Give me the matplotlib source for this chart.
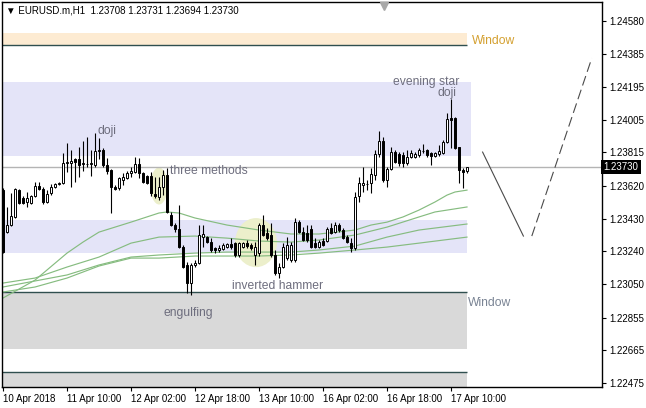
import matplotlib
matplotlib.use("Agg")
import matplotlib.pyplot as plt
import matplotlib.transforms as mtransforms
from matplotlib.patches import Rectangle, Ellipse

plt.rcParams['font.family'] = ['Liberation Sans', 'DejaVu Sans']

# EURUSD.m H1, 10 Apr 2018 18:00 .. 17 Apr 14:00 (one entry per bar)
opens = [1.23596, 1.23352, 1.23393, 1.23440, 1.23596, 1.23550, 1.23527, 1.23521, 1.23562, 1.23620,
         1.23602, 1.23527, 1.23579, 1.23614, 1.23631, 1.23637, 1.23753, 1.23756, 1.23776, 1.23776,
         1.23747, 1.23747, 1.23747, 1.23742, 1.23823, 1.23829, 1.23742, 1.23713, 1.23614, 1.23608,
         1.23654, 1.23666, 1.23695, 1.23701, 1.23747, 1.23695, 1.23678, 1.23678, 1.23573, 1.23556,
         1.23614, 1.23684, 1.23451, 1.23393, 1.23370, 1.23265, 1.23161, 1.23056, 1.23161, 1.23172,
         1.23323, 1.23323, 1.23294, 1.23259, 1.23248, 1.23254, 1.23265, 1.23283, 1.23288, 1.23219,
         1.23265, 1.23288, 1.23277, 1.23219, 1.23230, 1.23393, 1.23347, 1.23335, 1.23219, 1.23114,
         1.23149, 1.23201, 1.23190, 1.23190, 1.23410, 1.23352, 1.23347, 1.23370, 1.23288, 1.23265,
         1.23300, 1.23300, 1.23376, 1.23352, 1.23393, 1.23364, 1.23323, 1.23288, 1.23259, 1.23562,
         1.23625, 1.23631, 1.23637, 1.23684, 1.23806, 1.23881, 1.23654, 1.23718, 1.23817, 1.23806,
         1.23800, 1.23753, 1.23788, 1.23788, 1.23800, 1.23823, 1.23829, 1.23811, 1.23794, 1.23806,
         1.23811, 1.23875, 1.24015, 1.24015, 1.23846, 1.23713, 1.23708]
highs = [1.23608, 1.23498, 1.23579, 1.23608, 1.23602, 1.23562, 1.23585, 1.23567, 1.23643, 1.23643,
         1.23614, 1.23596, 1.23631, 1.23637, 1.23643, 1.23811, 1.23869, 1.23829, 1.23785, 1.23846,
         1.23881, 1.23904, 1.23829, 1.23928, 1.23898, 1.23840, 1.23782, 1.23718, 1.23625, 1.23672,
         1.23695, 1.23707, 1.23730, 1.23788, 1.23782, 1.23701, 1.23684, 1.23701, 1.23672, 1.23672,
         1.23713, 1.23724, 1.23469, 1.23405, 1.23509, 1.23277, 1.23178, 1.23172, 1.23190, 1.23393,
         1.23393, 1.23329, 1.23317, 1.23265, 1.23277, 1.23288, 1.23288, 1.23317, 1.23294, 1.23294,
         1.23294, 1.23306, 1.23288, 1.23294, 1.23405, 1.23451, 1.23376, 1.23405, 1.23248, 1.23172,
         1.23288, 1.23323, 1.23294, 1.23434, 1.23422, 1.23381, 1.23393, 1.23393, 1.23317, 1.23306,
         1.23317, 1.23381, 1.23405, 1.23410, 1.23405, 1.23376, 1.23335, 1.23317, 1.23585, 1.23672,
         1.23730, 1.23654, 1.23724, 1.23829, 1.23939, 1.23904, 1.23730, 1.23846, 1.23829, 1.23817,
         1.23817, 1.23829, 1.23829, 1.23817, 1.23840, 1.23864, 1.23835, 1.23817, 1.23817, 1.23858,
         1.23887, 1.24044, 1.24125, 1.24020, 1.23846, 1.23724, 1.23731]
lows = [1.23230, 1.23347, 1.23387, 1.23434, 1.23515, 1.23515, 1.23498, 1.23515, 1.23556, 1.23596,
        1.23515, 1.23521, 1.23567, 1.23608, 1.23625, 1.23631, 1.23701, 1.23614, 1.23643, 1.23672,
        1.23707, 1.23730, 1.23678, 1.23730, 1.23776, 1.23730, 1.23689, 1.23463, 1.23596, 1.23596,
        1.23625, 1.23660, 1.23672, 1.23695, 1.23666, 1.23637, 1.23631, 1.23562, 1.23550, 1.23538,
        1.23567, 1.23463, 1.23387, 1.23352, 1.23259, 1.23143, 1.22998, 1.22986, 1.23149, 1.23166,
        1.23265, 1.23288, 1.23236, 1.23230, 1.23236, 1.23248, 1.23259, 1.23254, 1.23207, 1.23207,
        1.23262, 1.23259, 1.23248, 1.23161, 1.23213, 1.23329, 1.23306, 1.23207, 1.23103, 1.23085,
        1.23146, 1.23190, 1.23178, 1.23178, 1.23347, 1.23300, 1.23294, 1.23259, 1.23259, 1.23259,
        1.23271, 1.23294, 1.23341, 1.23347, 1.23352, 1.23312, 1.23288, 1.23236, 1.23248, 1.23527,
        1.23585, 1.23596, 1.23579, 1.23654, 1.23788, 1.23643, 1.23614, 1.23713, 1.23753, 1.23736,
        1.23730, 1.23742, 1.23782, 1.23782, 1.23788, 1.23811, 1.23788, 1.23742, 1.23788, 1.23794,
        1.23808, 1.23869, 1.23840, 1.23835, 1.23637, 1.23608, 1.23694]
closes = [1.23236, 1.23393, 1.23445, 1.23602, 1.23521, 1.23521, 1.23550, 1.23562, 1.23620, 1.23602,
          1.23527, 1.23573, 1.23614, 1.23631, 1.23637, 1.23753, 1.23759, 1.23765, 1.23759, 1.23742,
          1.23753, 1.23748, 1.23753, 1.23823, 1.23829, 1.23742, 1.23707, 1.23614, 1.23602, 1.23666,
          1.23670, 1.23695, 1.23707, 1.23747, 1.23695, 1.23643, 1.23637, 1.23579, 1.23562, 1.23614,
          1.23684, 1.23469, 1.23393, 1.23370, 1.23265, 1.23149, 1.23056, 1.23161, 1.23172, 1.23335,
          1.23341, 1.23294, 1.23248, 1.23248, 1.23259, 1.23277, 1.23283, 1.23265, 1.23219, 1.23288,
          1.23288, 1.23271, 1.23259, 1.23265, 1.23393, 1.23335, 1.23317, 1.23219, 1.23114, 1.23149,
          1.23265, 1.23277, 1.23277, 1.23410, 1.23352, 1.23306, 1.23306, 1.23268, 1.23265, 1.23294,
          1.23277, 1.23370, 1.23347, 1.23393, 1.23364, 1.23317, 1.23294, 1.23259, 1.23556, 1.23637,
          1.23640, 1.23631, 1.23689, 1.23806, 1.23881, 1.23654, 1.23718, 1.23817, 1.23759, 1.23753,
          1.23753, 1.23788, 1.23811, 1.23806, 1.23829, 1.23826, 1.23800, 1.23794, 1.23811, 1.23823,
          1.23875, 1.24009, 1.24003, 1.23840, 1.23713, 1.23701, 1.23730]

x_ticks = [0, 16, 32, 48, 64, 80, 96, 112]
x_labels = ['10 Apr 2018', '11 Apr 10:00', '12 Apr 02:00', '12 Apr 18:00',
            '13 Apr 10:00', '16 Apr 02:00', '16 Apr 18:00', '17 Apr 10:00']
y_ticks = [1.22475, 1.22665, 1.22855, 1.23050, 1.23240, 1.23430,
           1.23620, 1.23815, 1.24005, 1.24195, 1.24385, 1.24580]

# moving averages, read at sample bars
ma1_x = [0, 8, 16, 20, 24, 32, 39, 41, 44, 48, 56, 64, 72, 79, 88, 92, 96, 100, 104, 108, 111, 113, 116]
ma1_y = [1.22969, 1.23073, 1.23230, 1.23294, 1.23352, 1.23410, 1.23463, 1.23469, 1.23463, 1.23434,
         1.23393, 1.23364, 1.23341, 1.23341, 1.23364, 1.23393, 1.23410, 1.23440, 1.23480, 1.23527,
         1.23567, 1.23585, 1.23596]
ma2_x = [0, 8, 16, 24, 32, 39, 48, 56, 64, 72, 79, 88, 96, 104, 108, 116]
ma2_y = [1.23056, 1.23085, 1.23149, 1.23207, 1.23288, 1.23323, 1.23329, 1.23317, 1.23300, 1.23294,
         1.23306, 1.23335, 1.23381, 1.23440, 1.23469, 1.23498]
ma3_x = [0, 8, 16, 24, 32, 39, 48, 56, 64, 72, 79, 88, 96, 104, 116]
ma3_y = [1.23033, 1.23068, 1.23103, 1.23161, 1.23207, 1.23219, 1.23230, 1.23236, 1.23236, 1.23236,
         1.23248, 1.23271, 1.23323, 1.23364, 1.23399]
ma4_x = [0, 8, 16, 24, 32, 39, 48, 56, 64, 72, 79, 88, 96, 104, 116]
ma4_y = [1.23004, 1.23033, 1.23085, 1.23155, 1.23201, 1.23201, 1.23213, 1.23213, 1.23213, 1.23219,
         1.23230, 1.23248, 1.23265, 1.23288, 1.23323]

# zones: low, high, last bar
zone_lo = [1.24439, 1.23794, 1.23230, 1.22673, 1.22300]
zone_hi = [1.24509, 1.24224, 1.23422, 1.23004, 1.22539]
zone_end = [116.1, 117.0, 116.1, 116.1, 116.1]
zone_col = ['#FDEBD2', '#E4E4F8', '#E4E4F8', '#D9D9D9', '#D9D9D9']
zone_edge = [1.24439, None, None, 1.23004, 1.22539]

# forecast path
path_x = [119.9, 130.1]
path_y = [1.23817, 1.23329]
path2_x = [132.2, 147.2]
path2_y = [1.23329, 1.24363]

last_price = 1.23730
title = 'EURUSD.m,H1  1.23708 1.23731 1.23694 1.23730'

fig = plt.figure(figsize=(6.46, 4.08), dpi=100)
ax = fig.add_axes([2 / 646, 21 / 408, 600 / 646, 385 / 408])
ax.set_xlim(-0.25, 149.75)
ax.set_ylim(1.22452, 1.24689)

for lo, hi, end, col, edge in zip(zone_lo, zone_hi, zone_end, zone_col, zone_edge):
    ax.add_patch(Rectangle((-2, lo), end + 2, hi - lo, facecolor=col, edgecolor='none', zorder=0))
    if edge is not None:
        ax.hlines(edge, -2, end, color='#2F4F4F', lw=1.0, zorder=1)

hl = '#ECEFCB'
ax.add_patch(Ellipse((63.25, 1.23291), 10.5, 0.00285, facecolor=hl, edgecolor='none', zorder=1))
ax.add_patch(Ellipse((39.0, 1.23620), 4.3, 0.00215, facecolor=hl, edgecolor='none', zorder=1))

ax.axhline(last_price, color='#B4B4B4', lw=1.0, zorder=1)

for xs, ys in [(ma1_x, ma1_y), (ma2_x, ma2_y), (ma3_x, ma3_y), (ma4_x, ma4_y)]:
    ax.plot(xs, ys, color='#86BC80', lw=0.85, zorder=2)

for i in range(len(opens)):
    o, h, l, c = opens[i], highs[i], lows[i], closes[i]
    ax.vlines(i, l, h, color='black', lw=0.8, zorder=3)
    face = 'white' if c > o else 'black'
    ax.add_patch(Rectangle((i - 0.28, min(o, c)), 0.56, max(abs(c - o), 0.000004),
                           facecolor=face, edgecolor='black', lw=0.7, zorder=4))

ax.plot(path_x, path_y, color='#4A4A4A', lw=0.8, zorder=3)
ax.plot(path2_x, path2_y, color='#4A4A4A', lw=0.8, ls=(0, (9, 4)), zorder=3)

tc = '#6E6E7E'
fs = 8.7
ax.text(23.5, 1.23922, 'doji', color=tc, fontsize=fs, va='baseline', zorder=5)
ax.text(41.75, 1.23689, 'three methods', color=tc, fontsize=fs, va='baseline', zorder=5)
ax.text(97.5, 1.24206, 'evening star', color=tc, fontsize=fs, va='baseline', zorder=5)
ax.text(108.5, 1.24144, 'doji', color=tc, fontsize=fs, va='baseline', zorder=5)
ax.text(57.25, 1.23021, 'inverted hammer', color=tc, fontsize=fs, va='baseline', zorder=5)
ax.text(40.0, 1.22864, 'engulfing', color=tc, fontsize=fs, va='baseline', zorder=5)
ax.text(117.25, 1.24443, 'Window', color='#D4A030', fontsize=fs, va='baseline', zorder=5)
ax.text(116.25, 1.22922, 'Window', color='#7A8494', fontsize=fs, va='baseline', zorder=5)

for s in ax.spines.values():
    s.set_color('black')
    s.set_linewidth(1.0)

ax.set_xticks(x_ticks, x_labels)
for lbl in ax.get_xticklabels():
    lbl.set_ha('left')
ax.tick_params(axis='x', direction='out', length=3, width=0.8, pad=2, labelsize=7)
ax.set_yticks(y_ticks, ['%.5f' % v for v in y_ticks])
ax.tick_params(axis='y', left=False, right=True, labelleft=False, labelright=True,
               direction='out', length=3, width=0.8, pad=2, labelsize=7)

trans = mtransforms.blended_transform_factory(ax.transAxes, ax.transData)
ax.text(1.003, last_price, '%.5f' % last_price, transform=trans, color='white', fontsize=7,
        ha='left', va='center', zorder=10,
        bbox=dict(facecolor='black', edgecolor='none', boxstyle='square,pad=0.25'))

ax.text(0.006, 0.978, '\u25BC ' + title, transform=ax.transAxes, fontsize=7,
        va='center', ha='left', color='black')
ax.plot([0.6367], [0.99], marker='v', markersize=6, color='#A8A8A8',
        transform=ax.transAxes, clip_on=False, zorder=10)

fig.savefig('out.png', dpi=100)
